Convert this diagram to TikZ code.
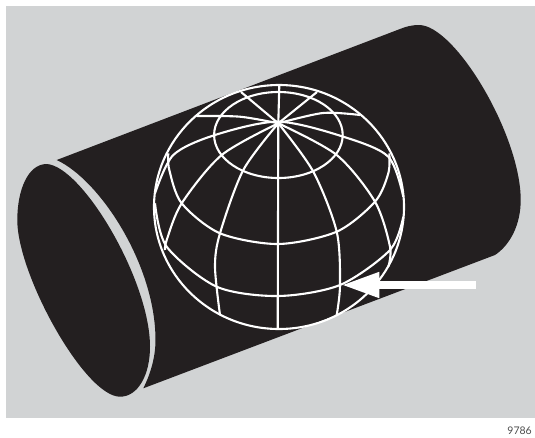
\documentclass[tikz,border=0pt]{standalone}
\usepackage{fontspec}
\setmainfont{Lato}
\usetikzlibrary{arrows.meta}
\definecolor{panelgray}{HTML}{D1D3D4}
\definecolor{bodyblack}{HTML}{231F20}
\tikzset{
  gridline/.style={draw=white, line width=2.1pt, line join=round},
}
\begin{document}
\begin{tikzpicture}[x=1pt,y=-1pt]
\useasboundingbox (0,0) rectangle (535,437);
\fill[panelgray] (6,6) rectangle (535,418);
% cylinder
\fill[bodyblack] (56.7,160) -- (400,29) .. controls (406,26.5) and (412,25) .. (419,25)
  .. controls (455,25) and (520.7,135) .. (520.7,200)
  .. controls (520.7,225) and (510,245) .. (495,255) -- (143.3,388.3)
  .. controls (150,375) and (155.5,358) .. (155.5,340)
  .. controls (155.5,265) and (100,180) .. (56.7,160) -- cycle;
\fill[bodyblack] (17.3,220) .. controls (17.3,190) and (28,164) .. (46.7,164)
  .. controls (82,166) and (150,280) .. (150,346.7)
  .. controls (150,375) and (138,396.7) .. (120,396.7)
  .. controls (85,396.7) and (17.3,275) .. (17.3,220) -- cycle;
% globe
\draw[gridline] (279,207) ellipse [x radius=125pt, y radius=122pt];
\draw[gridline] (278.4,135) ellipse [x radius=64.3pt, y radius=43pt];
\draw[gridline] plot[smooth] coordinates {(168.3,153.3) (169.3,170) (181.7,203.3) (220,233.3) (278.3,244) (336.7,231.7) (375,201.7) (388.3,173.3) (389.3,153.3)};
\draw[gridline] plot[smooth] coordinates {(155,193.3) (173.3,155) (215,135) (278.3,121.7) (343.3,136.7) (388.3,156.7) (403.3,196.7)};
\draw[gridline] plot[smooth] coordinates {(155,203.3) (166.7,246.7) (216.7,286.7) (278.3,296) (340,285) (390,250) (403.3,216.7)};
\coordinate (pole) at (278.3,123.3);
\draw[gridline] (279.3,85) -- (pole) -- (277.7,329.3);
\draw[gridline] plot[smooth] coordinates {(pole) (243.3,170) (220,233.3) (215,266.7) (220,315)};
\draw[gridline] plot[smooth] coordinates {(pole) (313.3,171.7) (336.7,231.7) (340,285) (336.7,315)};
\draw[gridline] plot[smooth] coordinates {(pole) (221.7,155) (181.7,203.3) (166.7,240) (165,250)};
\draw[gridline] plot[smooth] coordinates {(pole) (336.7,155) (375,201.7) (390,246.7) (388.3,266.7)};
\draw[gridline] (pole) -- (241,92);
\draw[gridline] (pole) -- (317,92);
\draw[gridline] plot[smooth] coordinates {(pole) (240,116.7) (196.7,116)};
\draw[gridline] plot[smooth] coordinates {(pole) (323,113) (360,115)};
% arrow
\coordinate (arrowtail) at (475.7,285);
\coordinate (arrowtip) at (341.7,285);
\draw[white, line width=7.6pt, -{Triangle[length=37.6pt, width=24pt]}] (arrowtail) -- (arrowtip);
\node[anchor=south east, inner sep=0pt, font=\fontsize{10.5}{12}\selectfont, text=black!70] (figno) at (532,435) {9786};
\end{tikzpicture}
\end{document}
